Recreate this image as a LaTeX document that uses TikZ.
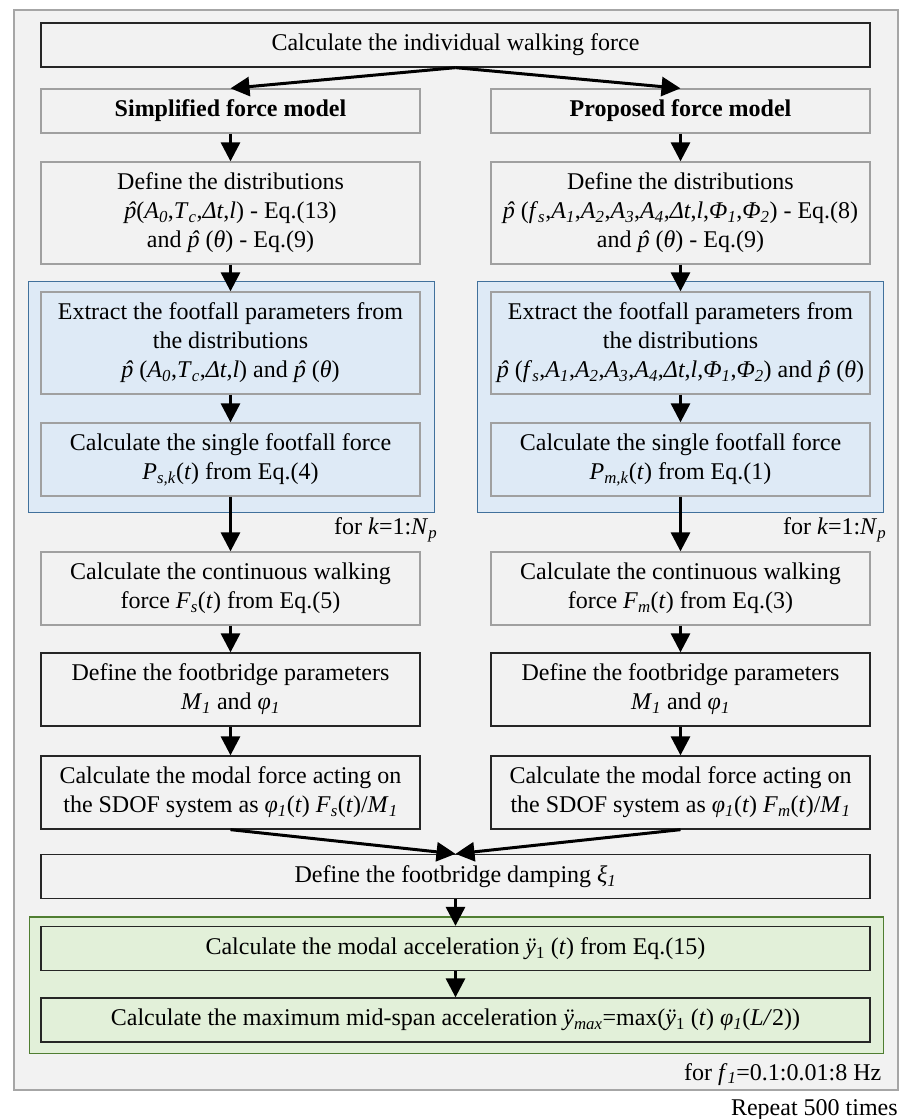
\documentclass[tikz,border=0pt]{standalone}
\usepackage{fontspec}
\setmainfont{Liberation Serif}
\usepackage{xcolor}
\usepackage{tikz}
\usetikzlibrary{shapes,arrows.meta}
\usetikzlibrary{positioning}
\usetikzlibrary{fit,backgrounds}

\definecolor{panelgrey}{HTML}{F2F2F2}
\definecolor{framegrey}{HTML}{A6A6A6}
\definecolor{boxgrey}{HTML}{A0A0A0}
\definecolor{loopblue}{HTML}{DEEAF6}
\definecolor{loopblueline}{HTML}{41719C}
\definecolor{loopgreen}{HTML}{E2F0D9}
\definecolor{loopgreenline}{HTML}{507E32}

\newcommand{\phat}{{\itshape\ooalign{p\cr\hidewidth\kern2pt\char"02C6\hidewidth\cr}}}
\newcommand{\isub}[1]{\textsubscript{\textit{#1}}}
\newcommand{\bodyfont}{\fontsize{24}{29}\selectfont}

\tikzstyle{block} = [rectangle, draw=boxgrey, fill=panelgrey, line width=1.3pt,
    align=center, minimum width=379pt, minimum height=73pt, inner sep=2pt,
    font=\bodyfont]
\tikzstyle{wide block} = [block, minimum width=829pt, minimum height=44pt]
\tikzstyle{dark} = [draw=black!85]
\tikzstyle{line} = [draw, line width=3pt, -{Triangle[length=19pt,width=19pt]}]
\tikzstyle{outer frame} = [rectangle, draw=framegrey, fill=panelgrey, line width=1.8pt]
\tikzstyle{blue loop} = [rectangle, draw=loopblueline, fill=loopblue, line width=1.6pt,
    inner xsep=13pt, inner ysep=13pt]
\tikzstyle{green loop} = [rectangle, draw=loopgreenline, fill=loopgreen, line width=1.6pt,
    inner xsep=12pt, inner ysep=10pt]
\tikzstyle{note} = [font=\bodyfont, inner sep=2pt, anchor=north east]

\begin{document}
\begin{tikzpicture}[x=1pt, y=-1pt, node distance=102pt]
  \useasboundingbox (0,0) rectangle (900,1119);

  % Place nodes
  \node [wide block, dark] (walk) at (455.5,45) {Calculate the individual walking force};
  \node [block, minimum height=44pt, font=\bodyfont\bfseries] (modelS) at (230.5,111) {Simplified force model};
  \node [block, minimum height=44pt, font=\bodyfont\bfseries, right of=modelS, node distance=450pt] (modelP) {Proposed force model};

  % simplified model
  \node [block, minimum height=102pt, below of=modelS] (distS)
    {Define the distributions\\ \phat(\textit{A}\isub{0},\textit{T}\isub{c},\textit{Δt},\textit{l}) - Eq.(13)\\ and \phat{} (\textit{θ}) - Eq.(9)};
  \node [block, fill=loopblue, minimum height=102pt, below of=distS, node distance=130pt] (extractS)
    {Extract the footfall parameters from\\ the distributions\\ \phat{} (\textit{A}\isub{0},\textit{T}\isub{c},\textit{Δt},\textit{l}) and \phat{} (\textit{θ})};
  \node [block, fill=loopblue, below of=extractS, node distance=116.5pt] (singleS)
    {Calculate the single footfall force\\ \textit{P}\isub{s,k}(\textit{t}) from Eq.(4)};
  \node [block, below of=singleS, node distance=129pt] (contS)
    {Calculate the continuous walking\\ force \textit{F}\isub{s}(\textit{t}) from Eq.(5)};
  \node [block, dark, below of=contS, node distance=101pt] (paramS)
    {Define the footbridge parameters\\ \textit{M}\isub{1} and \textit{φ}\isub{1}};
  \node [block, dark, below of=paramS, node distance=103pt] (modalS)
    {Calculate the modal force acting on\\ the SDOF system as \textit{φ}\isub{1}(\textit{t}) \textit{F}\isub{s}(\textit{t})/\textit{M}\isub{1}};

  % proposed model
  \node [block, minimum height=102pt, below of=modelP] (distP)
    {Define the distributions\\ \phat{} (\textit{f}\isub{s},\textit{A}\isub{1},\textit{A}\isub{2},\textit{A}\isub{3},\textit{A}\isub{4},\textit{Δt},\textit{l},\textit{Φ}\isub{1},\textit{Φ}\isub{2}) - Eq.(8)\\ and \phat{} (\textit{θ}) - Eq.(9)};
  \node [block, fill=loopblue, minimum height=102pt, below of=distP, node distance=130pt] (extractP)
    {Extract the footfall parameters from\\ the distributions\\ \phat{} (\textit{f}\isub{s},\textit{A}\isub{1},\textit{A}\isub{2},\textit{A}\isub{3},\textit{A}\isub{4},\textit{Δt},\textit{l},\textit{Φ}\isub{1},\textit{Φ}\isub{2}) and \phat{} (\textit{θ})};
  \node [block, fill=loopblue, below of=extractP, node distance=116.5pt] (singleP)
    {Calculate the single footfall force\\ \textit{P}\isub{m,k}(\textit{t}) from Eq.(1)};
  \node [block, below of=singleP, node distance=129pt] (contP)
    {Calculate the continuous walking\\ force \textit{F}\isub{m}(\textit{t}) from Eq.(3)};
  \node [block, dark, below of=contP, node distance=101pt] (paramP)
    {Define the footbridge parameters\\ \textit{M}\isub{1} and \textit{φ}\isub{1}};
  \node [block, dark, below of=paramP, node distance=103pt] (modalP)
    {Calculate the modal force acting on\\ the SDOF system as \textit{φ}\isub{1}(\textit{t}) \textit{F}\isub{m}(\textit{t})/\textit{M}\isub{1}};

  % common part
  \node [wide block, dark, below of=walk, node distance=831.5pt] (damping)
    {Define the footbridge damping \textit{ξ}\isub{1}};
  \node [wide block, dark, fill=loopgreen, below of=damping, node distance=72pt] (accel)
    {Calculate the modal acceleration \textit{ÿ}\textsubscript{1} (\textit{t}) from Eq.(15)};
  \node [wide block, dark, fill=loopgreen, below of=accel, node distance=71.5pt] (maxacc)
    {Calculate the maximum mid-span acceleration \textit{ÿ}\isub{max}=max(\textit{ÿ}\textsubscript{1} (\textit{t}) \textit{φ}\isub{1}(\textit{L/}2))};

  % Loops in the background
  \begin{scope}[on background layer]
    \node [outer frame, minimum width=884pt, minimum height=1080pt] (repeat) at (456,550) {};
    \node [blue loop, fit=(extractS)(singleS), xshift=1pt, yshift=-3pt] (loopS) {};
    \node [blue loop, fit=(extractP)(singleP), yshift=-3pt] (loopP) {};
    \node [green loop, fit=(accel)(maxacc), xshift=1pt, yshift=-1pt] (loopF) {};
  \end{scope}

  % Loop labels
  \node [note, xshift=4pt, yshift=-2pt] (kS) at (loopS.south east) {for \textit{k}=1:\textit{N}\isub{p}};
  \node [note, xshift=4pt, yshift=-2pt] (kP) at (loopP.south east) {for \textit{k}=1:\textit{N}\isub{p}};
  \node [note, xshift=-1pt, yshift=-6.5pt] (fF) at (loopF.south east) {for \textit{f}\isub{1}=0.1:0.01:8 Hz};
  \node [note, xshift=1pt, yshift=-6.5pt] (rep) at (repeat.south east) {Repeat 500 times};

  % Draw edges
  \path [line] (walk.south) -- (modelS.north);
  \path [line] (walk.south) -- (modelP.north);
  \path [line] (modelS) -- (distS);
  \path [line] (distS) -- (extractS);
  \path [line] (extractS) -- (singleS);
  \path [line] (singleS) -- (contS);
  \path [line] (contS) -- (paramS);
  \path [line] (paramS) -- (modalS);
  \path [line] (modelP) -- (distP);
  \path [line] (distP) -- (extractP);
  \path [line] (extractP) -- (singleP);
  \path [line] (singleP) -- (contP);
  \path [line] (contP) -- (paramP);
  \path [line] (paramP) -- (modalP);
  \path [line] (modalS.south) -- (damping.north);
  \path [line] (modalP.south) -- (damping.north);
  \path [line] (damping) -- (accel);
  \path [line] (accel) -- (maxacc);
\end{tikzpicture}
\end{document}
